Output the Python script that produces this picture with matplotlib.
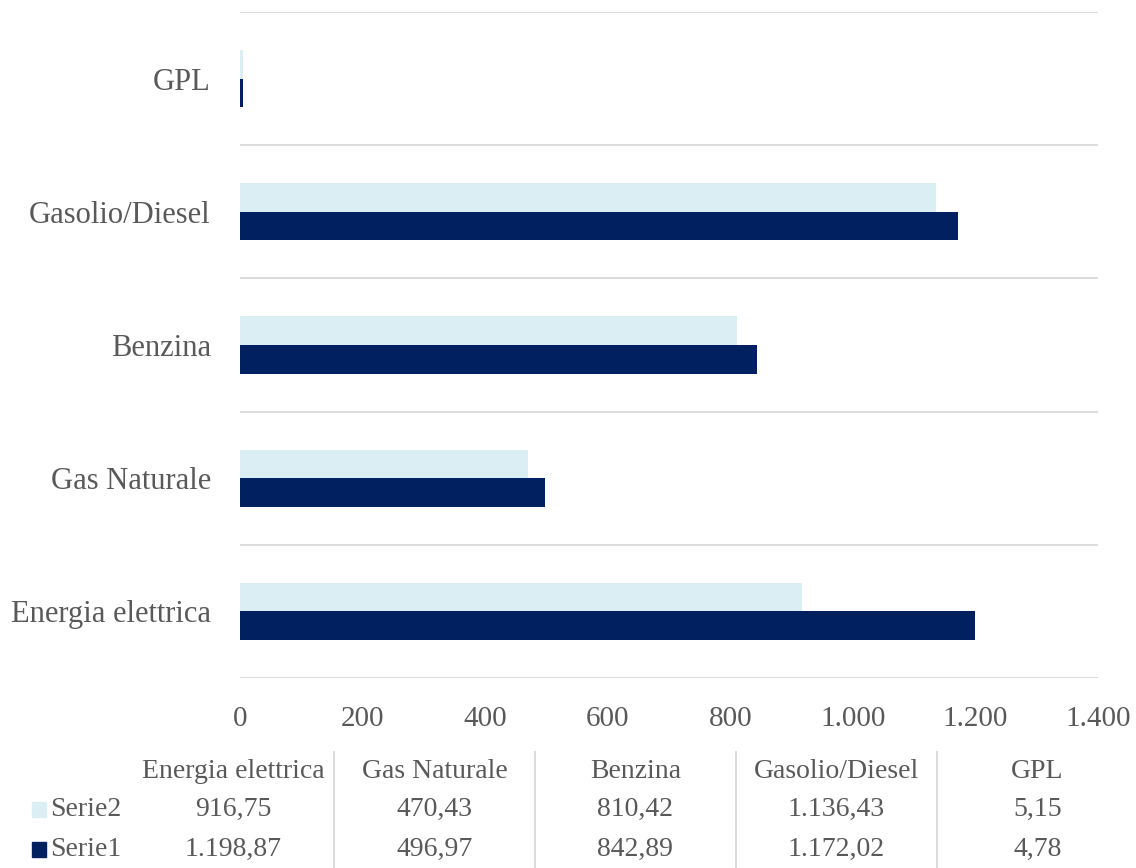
import matplotlib

matplotlib.use("Agg")
import matplotlib.pyplot as plt
from matplotlib.patches import Rectangle
from matplotlib.lines import Line2D
from matplotlib.ticker import FuncFormatter

categories = ["Energia elettrica", "Gas Naturale", "Benzina", "Gasolio/Diesel", "GPL"]
serie1 = [1198.87, 496.97, 842.89, 1172.02, 4.78]
serie2 = [916.75, 470.43, 810.42, 1136.43, 5.15]
series_names = ["Serie2", "Serie1"]
x_ticks = [0, 200, 400, 600, 800, 1000, 1200, 1400]

DARK = "#002060"
LIGHT = "#DAEEF3"
TEXT = "#595959"
GRID = "#D9D9D9"
FONT = "Liberation Serif"


def it_number(value, decimals=0):
    # Italian style: dot for thousands, comma for decimals
    s = f"{value:,.{decimals}f}"
    return s.replace(",", "X").replace(".", ",").replace("X", ".")


W, H = 1136, 868
fig = plt.figure(figsize=(W / 100, H / 100), dpi=100)
ax = fig.add_axes([240 / W, 1 - 678 / H, 858 / W, 666 / H])

pos = list(range(len(categories)))
bar_h = 0.215
ax.barh([p + bar_h / 2 for p in pos], serie2, height=bar_h, color=LIGHT, zorder=3)
ax.barh([p - bar_h / 2 for p in pos], serie1, height=bar_h, color=DARK, zorder=3)

ax.set_xlim(0, 1400)
ax.set_ylim(-0.5, len(categories) - 0.5)
ax.set_xticks(x_ticks)
ax.xaxis.set_major_formatter(FuncFormatter(lambda v, _: it_number(v)))
ax.set_yticks(pos)
ax.set_yticklabels(categories)

# category separators act as the horizontal gridlines
for b in [p - 0.5 for p in pos] + [len(categories) - 0.5]:
    ax.axhline(b, color=GRID, linewidth=1.3, zorder=1)

for spine in ax.spines.values():
    spine.set_visible(False)
ax.tick_params(axis="both", length=0, colors=TEXT, labelsize=21)
ax.tick_params(axis="y", labelsize=22)
ax.tick_params(axis="x", pad=20)
ax.tick_params(axis="y", pad=21)
for lbl in ax.get_xticklabels() + ax.get_yticklabels():
    lbl.set_fontfamily(FONT)

# data table under the chart
col_edges = [133, 334, 535, 736, 937, 1138]
col_centers = [(a + b) / 2 for a, b in zip(col_edges[:-1], col_edges[1:])]
row_y = [771, 809, 849]

for cx, name in zip(col_centers, categories):
    fig.text(cx / W, 1 - row_y[0] / H, name, ha="center", va="center",
             fontsize=20, color=TEXT, family=FONT)

for row, (name, vals, color) in enumerate(zip(series_names, [serie2, serie1], [LIGHT, DARK]), start=1):
    y = row_y[row]
    fig.patches.append(Rectangle((32 / W, 1 - (y + 8) / H), 14 / W, 15 / H,
                                 transform=fig.transFigure, color=color, figure=fig))
    fig.text(50 / W, 1 - y / H, name, ha="left", va="center",
             fontsize=20, color=TEXT, family=FONT)
    for cx, v in zip(col_centers, vals):
        fig.text(cx / W, 1 - y / H, it_number(v, 2), ha="center", va="center",
                 fontsize=20, color=TEXT, family=FONT)

for xe in col_edges[1:-1]:
    fig.lines.append(Line2D([xe / W, xe / W], [1 - 752 / H, 0], transform=fig.transFigure,
                            color=GRID, linewidth=1.3, figure=fig))

fig.savefig("out.png", dpi=100, facecolor="white")
